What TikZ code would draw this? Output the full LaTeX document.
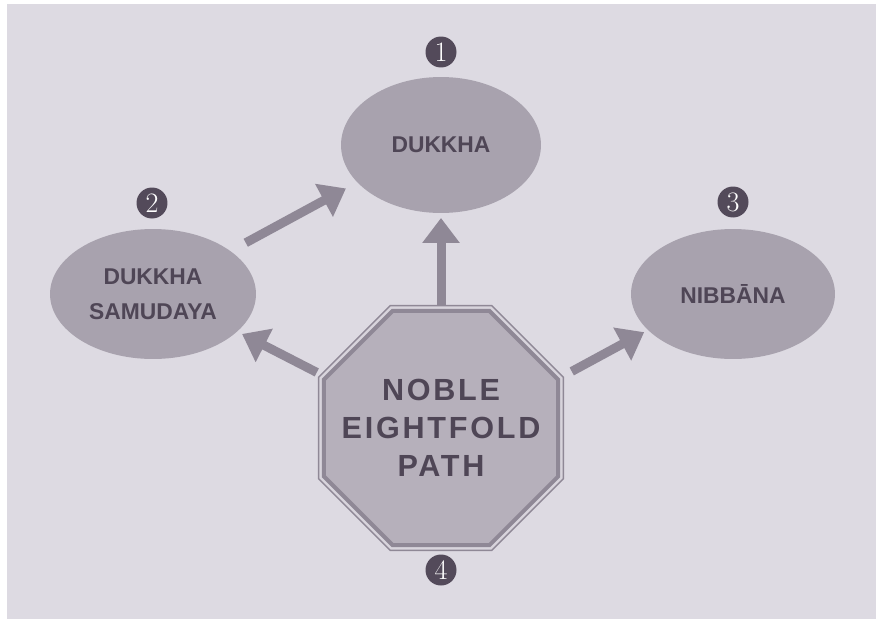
\documentclass[tikz,border=0pt]{standalone}
\usepackage{fontspec}
\usepackage{tikz}
\usetikzlibrary{shapes.geometric, arrows.meta}
\newfontfamily\labelfont{Liberation Sans}
\newfontfamily\signfont[LetterSpace=9]{Liberation Sans}

\definecolor{paper}{HTML}{DDDAE2}
\definecolor{bubblefill}{HTML}{A8A2AE}
\definecolor{arrowgray}{HTML}{8F8896}
\definecolor{signfill}{HTML}{B6B0BB}
\definecolor{signgap}{HTML}{D8D4DC}
\definecolor{inkgray}{HTML}{4F4656}
\definecolor{dotgray}{HTML}{534A5A}

\tikzset{
  bubble/.style={ellipse, fill=bubblefill, inner sep=0pt, outer sep=0pt, align=center,
    text=inkgray, font=\labelfont\bfseries\fontsize{13}{20}\selectfont},
  numdot/.style={circle, fill=dotgray, text=white, minimum size=0.62cm, inner sep=0pt,
    font=\fontsize{16}{16}\selectfont},
  octa/.style={regular polygon, regular polygon sides=8, inner sep=0pt, outer sep=0pt},
  flow/.style={arrowgray, line width=0.18cm, -{Triangle[width=0.72cm,length=0.5cm]}},
}

\begin{document}
\begin{tikzpicture}[x=0.02cm, y=-0.02cm]
    % Paper
    \fill[white] (0,0) rectangle (876,619);
    \fill[paper] (7,4) rectangle (876,619);
    \useasboundingbox (0,0) rectangle (876,619);

    % The three ovals
    \node[bubble, minimum width=4cm, minimum height=2.72cm] (dukkha) at (441,145) {DUKKHA};
    \node[bubble, minimum width=4.12cm, minimum height=2.6cm] (samudaya) at (153,294) {DUKKHA\\SAMUDAYA};
    \node[bubble, minimum width=4.08cm, minimum height=2.6cm] (nibbana) at (733,294) {NIBBĀNA};

    % Octagon sign
    \node[octa, minimum size=5.3cm, draw=arrowgray, line width=0.03cm, fill=signgap] (frame) at (441,428) {};
    \node[octa, minimum size=5.07cm, draw=arrowgray, line width=0.08cm, fill=signfill] (path) at (441,428) {};
    \node[text=inkgray, align=center, font=\signfont\bfseries\fontsize{17.4}{21.8}\selectfont]
      (pathtext) at (path.center) {NOBLE\\EIGHTFOLD\\PATH};

    % Arrows
    \draw[flow, shorten >=0.1cm] (frame.90) -- (dukkha.270);
    \draw[flow, shorten <=0.35cm, shorten >=0.26cm] (samudaya.29) -- (dukkha.204);
    \draw[flow, shorten <=0.1cm, shorten >=0.11cm] (frame.156) -- (samudaya.-24);
    \draw[flow, shorten <=0.21cm, shorten >=0.09cm] (frame.23) -- (nibbana.203);

    % Numbers
    \node[numdot] (one) at (441,52) {1};
    \node[numdot] (two) at (152,203) {2};
    \node[numdot] (three) at (733,202) {3};
    \node[numdot] (four) at (441,570) {4};
\end{tikzpicture}
\end{document}
